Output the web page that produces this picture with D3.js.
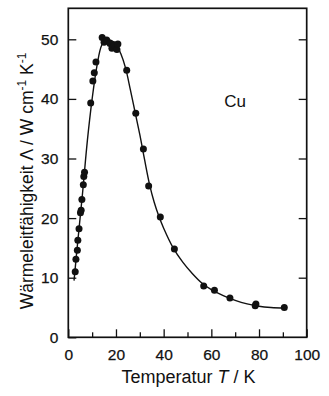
<!DOCTYPE html>
<html><head><meta charset="utf-8">
<script src="https://cdn.jsdelivr.net/npm/d3@7"></script>
<style>body{margin:0;background:#fff}svg{display:block}text{font-family:"Liberation Sans",Arial,sans-serif;fill:#111}</style>
</head><body><svg id="c" width="329" height="396"></svg>
<script>
const measT = [2.9,3.2,3.8,4.0,4.5,5.1,5.4,5.7,6.3,6.5,6.8,9.4,10.3,10.9,11.6,14.2,15.0,16.1,17.5,18.3,19.3,20.4,20.8,24.5,28.3,31.5,33.7,38.6,44.5,56.8,61.3,67.8,78.4,78.7,90.6];
const measK = [11.0,13.1,14.6,16.3,18.2,20.9,21.3,23.1,25.6,27.0,27.7,39.3,43.0,44.4,46.2,50.3,49.5,49.9,49.3,48.5,49.1,48.3,49.2,44.8,37.6,31.6,25.4,20.2,14.8,8.6,7.9,6.6,5.3,5.6,5.0];
const curveT = [2.4,4,6,8,10,12,14,16,18,20,22,24,26,28,30,32,34,36,38,40,44,48,52,56,60,65,70,75,80,85,91];
const curveK = [9.5,16.2,24.3,33,40,45.5,49,50,49.8,49.2,47.6,45.2,41.6,37.8,34,29.8,25.8,22.7,20.3,18.3,15,12.6,10.7,9.1,8,7,6.2,5.6,5.2,5.0,4.9];
const xTicksMajor = [0,20,40,60,80,100];
const xTicksMinor = [10,30,50,70,90];
const yTicks = [0,10,20,30,40,50];

const svg = d3.select("#c");
const L=68.3, R=306.7, B=337.3;
const x = d3.scaleLinear().domain([0,100]).range([L,R]);
const y = d3.scaleLinear().domain([0,50]).range([B,39.3]);
const T = y(55.2);

const g = svg.append("g");
g.append("rect").attr("x",L).attr("y",T).attr("width",R-L).attr("height",B-T)
  .attr("fill","none").attr("stroke","#111").attr("stroke-width",1.7);

const xb = d3.axisBottom(x).tickValues(xTicksMajor).tickSize(-8).tickPadding(12).tickFormat(d3.format("d"));
const ga = svg.append("g").attr("transform",`translate(0,${B})`).call(xb);
ga.select(".domain").remove();
ga.selectAll("line").attr("stroke","#111").attr("stroke-width",1.3);
ga.selectAll("text").attr("font-size",15.5).attr("fill","#111").attr("stroke","#111").attr("stroke-width",0.25);
const gm = svg.append("g").attr("transform",`translate(0,${B})`).call(d3.axisBottom(x).tickValues(xTicksMinor).tickSize(-5).tickFormat(""));
gm.select(".domain").remove();
gm.selectAll("line").attr("stroke","#111").attr("stroke-width",1.3);

const yl = d3.axisLeft(y).tickValues(yTicks).tickSize(-8).tickPadding(10).tickFormat(d3.format("d"));
const gl = svg.append("g").attr("transform",`translate(${L},0)`).call(yl);
gl.select(".domain").remove();
gl.selectAll("line").attr("stroke","#111").attr("stroke-width",1.3);
gl.selectAll("text").attr("font-size",15.5).attr("fill","#111").attr("stroke","#111").attr("stroke-width",0.25);
const gr = svg.append("g").attr("transform",`translate(${R},0)`).call(d3.axisRight(y).tickValues(yTicks.slice(1)).tickSize(-8).tickFormat(""));
gr.select(".domain").remove();
gr.selectAll("line").attr("stroke","#111").attr("stroke-width",1.3);

const pts = curveT.map((t,i)=>[t,curveK[i]]);
svg.append("path").datum(pts)
  .attr("d", d3.line().x(d=>x(d[0])).y(d=>y(d[1])).curve(d3.curveCatmullRom.alpha(0.5)))
  .attr("fill","none").attr("stroke","#111").attr("stroke-width",1.4);

svg.append("g").selectAll("circle").data(measT.map((t,i)=>[t,measK[i]])).join("circle")
  .attr("cx",d=>x(d[0])).attr("cy",d=>y(d[1])).attr("r",3.5).attr("fill","#111");

svg.append("text").attr("x",235).attr("y",107).attr("text-anchor","middle").attr("font-size",17).text("Cu");

const xt = svg.append("text").attr("x",(L+R)/2+1).attr("y",383).attr("text-anchor","middle").attr("font-size",18);
xt.append("tspan").text("Temperatur ");
xt.append("tspan").attr("font-style","italic").text("T");
xt.append("tspan").text(" / K");

const yt = svg.append("text").attr("transform",`translate(33,181) rotate(-90)`).attr("text-anchor","middle").attr("font-size",17.5);
yt.append("tspan").text("Wärmeleitfähigkeit Λ / W cm");
yt.append("tspan").attr("font-size",12).attr("dy",-7).text("-1");
yt.append("tspan").attr("dy",7).text(" K");
yt.append("tspan").attr("font-size",12).attr("dy",-7).text("-1");
</script></body></html>
